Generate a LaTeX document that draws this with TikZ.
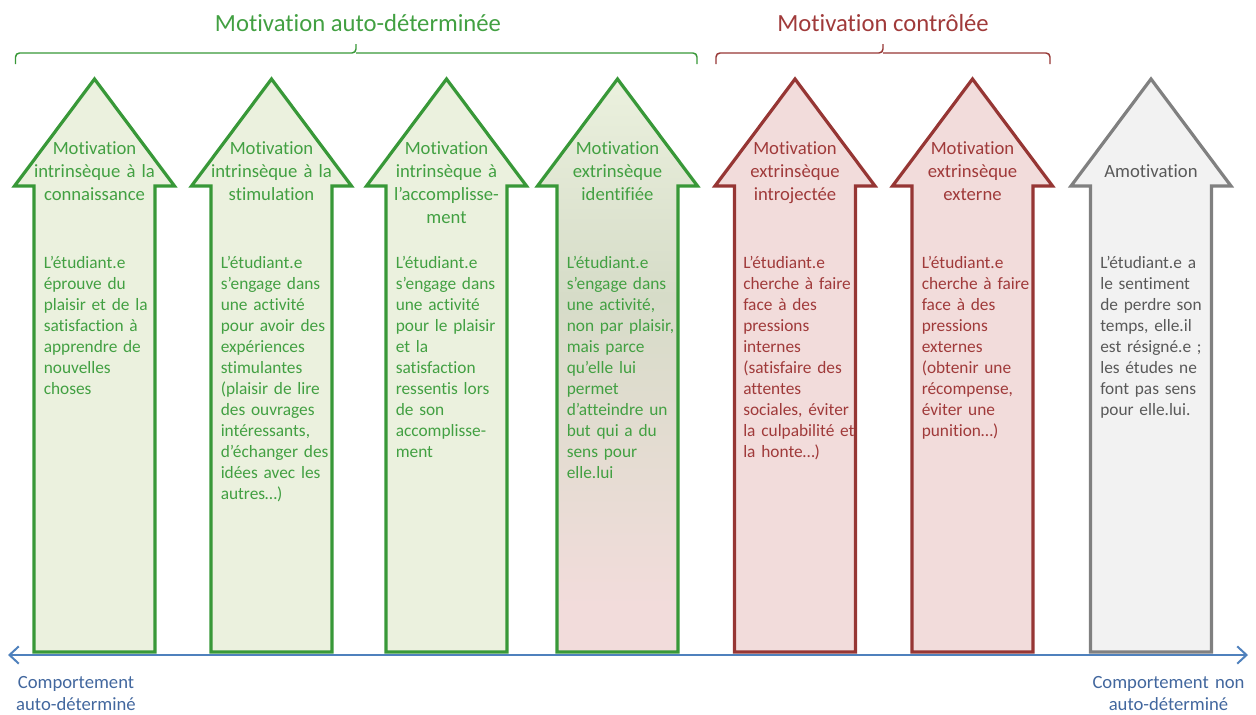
\documentclass[tikz,border=0pt]{standalone}
\usepackage{fontspec}
\setmainfont{Carlito}[Ligatures=NoCommon]
\usetikzlibrary{arrows.meta}

\definecolor{greenline}{RGB}{56,152,56}
\definecolor{greentext}{RGB}{66,160,66}
\definecolor{greenfill}{RGB}{235,241,222}
\definecolor{midfill}{RGB}{214,220,200}
\definecolor{redline}{RGB}{150,54,52}
\definecolor{redtext}{RGB}{160,58,58}
\definecolor{redfill}{RGB}{242,220,219}
\definecolor{greyline}{RGB}{128,128,128}
\definecolor{greytext}{RGB}{89,89,89}
\definecolor{greyfill}{RGB}{242,242,242}
\definecolor{axisblue}{RGB}{79,129,189}
\definecolor{labelblue}{RGB}{66,103,158}

% green at the top, red at the foot
\pgfdeclareverticalshading{greentored}{100bp}{color(0bp)=(redfill); color(29bp)=(redfill);
  color(56bp)=(midfill); color(75bp)=(greenfill); color(100bp)=(greenfill)}

\tikzset{
  blockgreen/.style={draw=greenline, fill=greenfill, line width=2.4pt},
  blockred/.style={draw=redline, fill=redfill, line width=2.4pt},
  blockgrey/.style={draw=greyline, fill=greyfill, line width=2.4pt},
  headtext/.style={anchor=base, inner sep=0pt, text width=112pt, align=center,
    font=\fontsize{14}{17.25}\selectfont},
  bodytext/.style={anchor=base west, inner sep=0pt, text width=88pt, align=left,
    font=\fontsize{13}{15.75}\selectfont},
  titletext/.style={anchor=base, inner sep=0pt, font=\fontsize{18.5}{22}\selectfont},
  bracket/.style={line width=1.1pt, rounded corners=3pt},
  endlabel/.style={anchor=base, inner sep=0pt, text width=150pt, align=center,
    text=labelblue, font=\fontsize{14}{16.5}\selectfont},
}

\begin{document}
\begin{tikzpicture}[x=0.75pt, y=-0.75pt]
  \useasboundingbox (0,0) rectangle (1256,714);

  % self-determined group
  \node[titletext, text=greentext] (titleauto) at (358,31) {Motivation auto-déterminée};
  \draw[bracket, greenline] (15.5,64) |- (356,53) -- (356,44);
  \draw[bracket, greenline] (697,64) |- (356,53);

  % controlled group
  \node[titletext, text=redtext] (titlectrl) at (883,31) {Motivation contrôlée};
  \draw[bracket, redline] (716,64) |- (883,53) -- (883,44);
  \draw[bracket, redline] (1050,64) |- (883,53);

  % intrinsic, knowledge
  \draw[blockgreen] (94.5,79) -- ++(80,107) -- ++(-19.5,0) -- ++(0,466) -- ++(-121,0)
    -- ++(0,-466) -- ++(-19.5,0) -- cycle;
  \node[headtext, text=greentext] (headknow) at (94.5,154) {Motivation\\intrinsèque à la\\connaissance};
  \node[bodytext, text=greentext] (bodyknow) at (43.5,268) {L’étudiant.e\\éprouve du\\plaisir et de la\\satisfaction à\\apprendre de\\nouvelles\\choses};

  % intrinsic, stimulation
  \draw[blockgreen] (271.5,79) -- ++(80,107) -- ++(-19.5,0) -- ++(0,466) -- ++(-121,0)
    -- ++(0,-466) -- ++(-19.5,0) -- cycle;
  \node[headtext, text=greentext] (headstim) at (271.5,154) {Motivation\\intrinsèque à la\\stimulation};
  \node[bodytext, text=greentext] (bodystim) at (220.5,268) {L’étudiant.e\\s’engage dans\\une activité\\pour avoir des\\expériences\\stimulantes\\(plaisir de lire\\des ouvrages\\intéressants,\\d’échanger des\\idées avec les\\autres…)};

  % intrinsic, accomplishment
  \draw[blockgreen] (446.5,79) -- ++(80,107) -- ++(-19.5,0) -- ++(0,466) -- ++(-121,0)
    -- ++(0,-466) -- ++(-19.5,0) -- cycle;
  \node[headtext, text=greentext] (headaccomp) at (446.5,154) {Motivation\\intrinsèque à\\l’accomplisse-\\ment};
  \node[bodytext, text=greentext] (bodyaccomp) at (395.5,268) {L’étudiant.e\\s’engage dans\\une activité\\pour le plaisir\\et la\\satisfaction\\ressentis lors\\de son\\accomplisse-\\ment};

  % extrinsic, identified
  \shade[shading=greentored, draw=greenline, line width=2.4pt] (617.5,79) -- ++(80,107) -- ++(-19.5,0)
    -- ++(0,466) -- ++(-121,0) -- ++(0,-466) -- ++(-19.5,0) -- cycle;
  \node[headtext, text=greentext] (headident) at (617.5,154) {Motivation\\extrinsèque\\identifiée};
  \node[bodytext, text=greentext] (bodyident) at (566.5,268) {L’étudiant.e\\s’engage dans\\une activité,\\non par plaisir,\\mais parce\\qu’elle lui\\permet\\d’atteindre un\\but qui a du\\sens pour\\elle.lui};

  % extrinsic, introjected
  \draw[blockred] (795,79) -- ++(80,107) -- ++(-19.5,0) -- ++(0,466) -- ++(-121,0)
    -- ++(0,-466) -- ++(-19.5,0) -- cycle;
  \node[headtext, text=redtext] (headintro) at (795,154) {Motivation\\extrinsèque\\introjectée};
  \node[bodytext, text=redtext] (bodyintro) at (743,268) {L’étudiant.e\\cherche à faire\\face à des\\pressions\\internes\\(satisfaire des\\attentes\\sociales, éviter\\la culpabilité et\\la honte…)};

  % extrinsic, external
  \draw[blockred] (972.5,79) -- ++(80,107) -- ++(-19.5,0) -- ++(0,466) -- ++(-121,0)
    -- ++(0,-466) -- ++(-19.5,0) -- cycle;
  \node[headtext, text=redtext] (headext) at (972.5,154) {Motivation\\extrinsèque\\externe};
  \node[bodytext, text=redtext] (bodyext) at (921.5,268) {L’étudiant.e\\cherche à faire\\face à des\\pressions\\externes\\(obtenir une\\récompense,\\éviter une\\punition…)};

  % amotivation
  \draw[blockgrey] (1151,79) -- ++(80,107) -- ++(-19.5,0) -- ++(0,466) -- ++(-121,0)
    -- ++(0,-466) -- ++(-19.5,0) -- cycle;
  \node[headtext, text=greytext] (headamot) at (1151,177) {Amotivation};
  \node[bodytext, text=greytext] (bodyamot) at (1100,268) {L’étudiant.e a\\le sentiment\\de perdre son\\temps, elle.il\\est résigné.e ;\\les études ne\\font pas sens\\pour elle.lui.};

  % behaviour axis
  \coordinate (axisleft) at (8,655);
  \coordinate (axisright) at (1248,655);
  \draw[axisblue, line width=1.5pt, {Straight Barb[length=7pt,width=13pt]}-{Straight Barb[length=7pt,width=13pt]}]
    (axisleft) -- (axisright);
  \node[endlabel] (selfdet) at (76,688) {Comportement\\auto-déterminé};
  \node[endlabel] (nonselfdet) at (1168.5,688) {Comportement non\\auto-déterminé};
\end{tikzpicture}
\end{document}
